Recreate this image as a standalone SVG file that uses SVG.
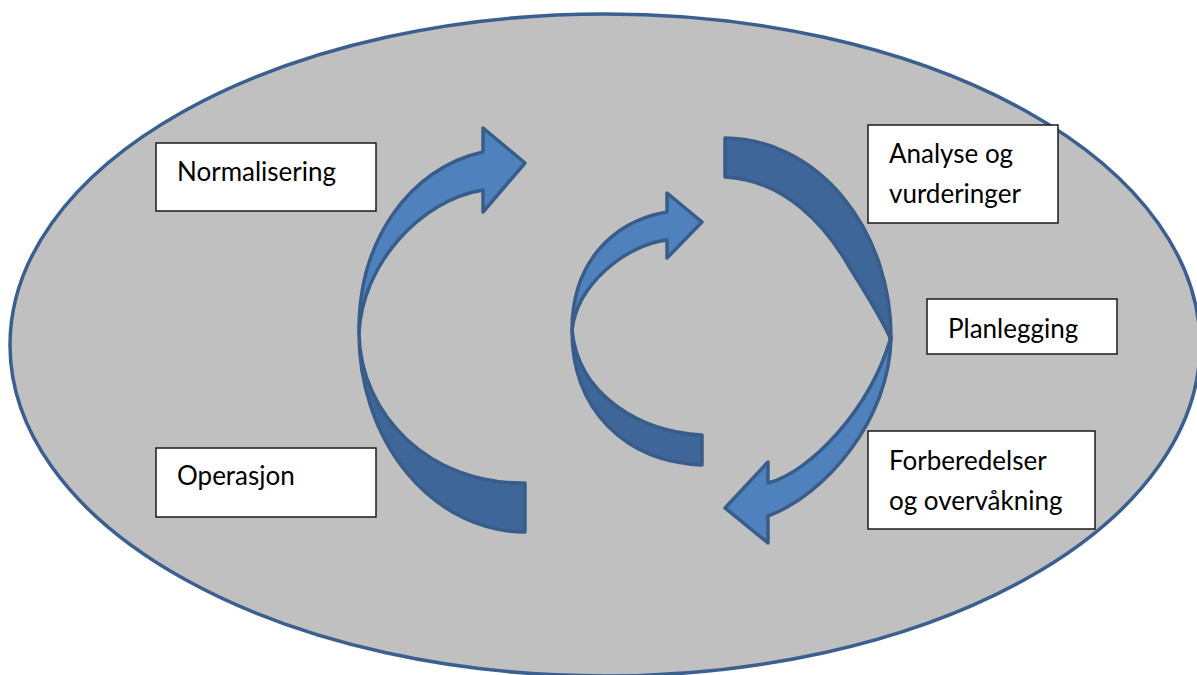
<svg xmlns="http://www.w3.org/2000/svg" width="1197" height="675" viewBox="0 0 1197 675">
  <style>
    .bg { fill: #c0c0c0; stroke: #3b5f8f; stroke-width: 3.5; }
    .box rect { fill: #ffffff; stroke: #1a1a1a; stroke-width: 1.5; }
    .box text { font-family: Lato, "Open Sans", sans-serif; font-size: 26px; fill: #000000; }
    .front { fill: #4f81bd; stroke: #385d8a; stroke-width: 3.5; stroke-linejoin: round; }
    .back { fill: #3f6698; stroke: #385d8a; stroke-width: 3.5; stroke-linejoin: round; }
  </style>

  <rect x="0" y="0" width="1197" height="675" fill="#ffffff"/>
  <ellipse class="bg" cx="605" cy="345" rx="595" ry="331"/>

  <g id="connectors">
    <!-- large left circular arrow -->
    <g id="arrow-left">
      <path class="back" d="M 359,333 A 166 199 0 0 0 525,532 L 525,483 C 430,485 360,415 359,333 Z"/>
      <path class="front" d="M 359,333 C 358,240 410,168 483,152 L 483,128 L 525,163 L 483,212 L 483,190 C 420,200 362,265 359,333 Z"/>
    </g>
    <!-- small inner circular arrow -->
    <g id="arrow-inner">
      <path class="back" d="M 572,330 C 572,410 625,462 702,465 L 702,435 C 640,432 578,395 572,330 Z"/>
      <path class="front" d="M 572,330 C 572,265 610,222 667,212 L 667,193 L 702,222 L 667,258 L 667,240 C 625,245 577,285 572,330 Z"/>
    </g>
    <!-- large right circular arrow -->
    <g id="arrow-right">
      <path class="back" d="M 725,138 A 167 199 0 0 1 891,340 C 882,318 860,285 847,263 C 825,226 785,180 725,177 Z"/>
      <path class="front" d="M 891,337 C 890,420 825,495 768,516 L 768,543 L 725,508 L 768,462 L 768,483 C 810,472 870,410 891,337 Z"/>
    </g>
  </g>

  <g id="node-normalisering" class="box">
    <rect x="156" y="143" width="220" height="68"/>
    <text x="177" y="181">Normalisering</text>
  </g>
  <g id="node-operasjon" class="box">
    <rect x="156" y="448" width="220" height="69"/>
    <text x="177" y="485">Operasjon</text>
  </g>
  <g id="node-analyse" class="box">
    <rect x="868" y="125" width="190" height="98"/>
    <text x="889" y="163">Analyse og</text>
    <text x="889" y="203">vurderinger</text>
  </g>
  <g id="node-planlegging" class="box">
    <rect x="927" y="299" width="190" height="55"/>
    <text x="948" y="338">Planlegging</text>
  </g>
  <g id="node-forberedelser" class="box">
    <rect x="868" y="431" width="227" height="98"/>
    <text x="889" y="470">Forberedelser</text>
    <text x="889" y="510">og overvåkning</text>
  </g>
</svg>
